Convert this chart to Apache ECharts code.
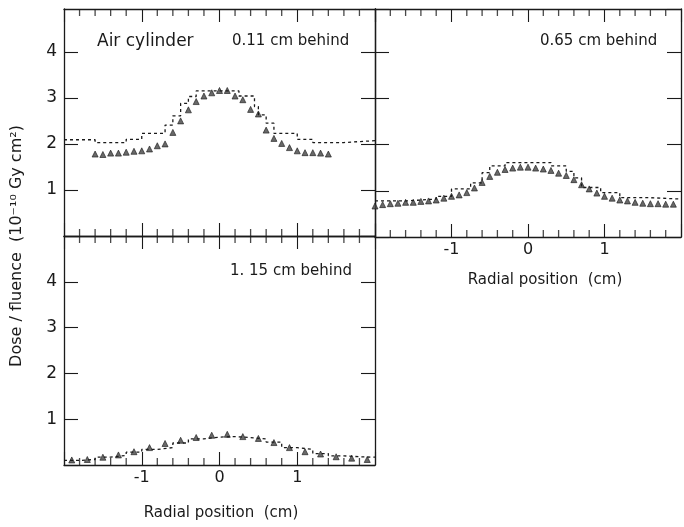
<!DOCTYPE html>
<html>
<head>
<meta charset="utf-8">
<script src="https://cdn.jsdelivr.net/npm/echarts@6/dist/echarts.min.js"></script>
<style>
  html, body { margin: 0; padding: 0; background: #fff; }
  #chart { width: 684px; height: 527px; }
</style>
</head>
<body>
<div id="chart"></div>
<script>
// panel 1: air cylinder, 0.11 cm behind
const triX1 = [-1.6, -1.5, -1.4, -1.3, -1.2, -1.1, -1.0, -0.9, -0.8, -0.7, -0.6, -0.5, -0.4, -0.3, -0.2, -0.1,
  0.0, 0.1, 0.2, 0.3, 0.4, 0.5, 0.6, 0.7, 0.8, 0.9, 1.0, 1.1, 1.2, 1.3, 1.4]
const triY1 = [1.78, 1.77, 1.80, 1.80, 1.82, 1.84, 1.85, 1.89, 1.96, 2.00, 2.25, 2.50, 2.74, 2.92, 3.04, 3.11,
  3.16, 3.16, 3.04, 2.96, 2.75, 2.65, 2.30, 2.12, 2.01, 1.92, 1.85, 1.81, 1.81, 1.80, 1.78]
const stepEdges1 = [-2.0, -1.6, -1.2, -1.0, -0.7, -0.6, -0.5, -0.4, -0.3, 0.25, 0.45, 0.5, 0.6, 0.7, 1.0, 1.2, 1.6, 2.0]
const stepVals1 = [2.09, 2.03, 2.10, 2.23, 2.41, 2.61, 2.88, 3.03, 3.15, 3.04, 2.81, 2.63, 2.45, 2.23, 2.10, 2.03, 2.07]

// panel 2: 0.65 cm behind
const triX2 = [-2.0, -1.9, -1.8, -1.7, -1.6, -1.5, -1.4, -1.3, -1.2, -1.1, -1.0, -0.9, -0.8, -0.7, -0.6, -0.5, -0.4, -0.3, -0.2, -0.1,
  0.0, 0.1, 0.2, 0.3, 0.4, 0.5, 0.6, 0.7, 0.8, 0.9, 1.0, 1.1, 1.2, 1.3, 1.4, 1.5, 1.6, 1.7, 1.8, 1.9]
const triY2 = [0.67, 0.70, 0.72, 0.73, 0.75, 0.75, 0.77, 0.78, 0.80, 0.84, 0.88, 0.91, 0.96, 1.06, 1.18, 1.31, 1.40, 1.46, 1.49, 1.51,
  1.51, 1.49, 1.47, 1.44, 1.38, 1.33, 1.24, 1.13, 1.04, 0.95, 0.88, 0.84, 0.80, 0.78, 0.75, 0.73, 0.72, 0.72, 0.71, 0.71]
const stepEdges2 = [-2.0, -1.6, -1.2, -1.0, -0.75, -0.6, -0.5, -0.3, 0.3, 0.5, 0.6, 0.7, 0.95, 1.2, 1.6, 2.0]
const stepVals2 = [0.78, 0.82, 0.88, 1.04, 1.17, 1.39, 1.54, 1.61, 1.54, 1.42, 1.28, 1.07, 0.96, 0.85, 0.82]

// panel 3: 1.15 cm behind
const triX3 = [-1.9, -1.7, -1.5, -1.3, -1.1, -0.9, -0.7, -0.5, -0.3, -0.1, 0.1, 0.3, 0.5, 0.7, 0.9, 1.1, 1.3, 1.5, 1.7, 1.9]
const triY3 = [0.11, 0.12, 0.17, 0.22, 0.29, 0.38, 0.47, 0.54, 0.60, 0.65, 0.67, 0.62, 0.58, 0.49, 0.38, 0.29, 0.24, 0.18, 0.15, 0.12]
const stepEdges3 = [-2.0, -1.8, -1.6, -1.4, -1.2, -1.0, -0.8, -0.6, -0.4, -0.2, 0.0, 0.2, 0.4, 0.6, 0.8, 1.0, 1.2, 1.4, 1.6, 1.8, 2.0]
const stepVals3 = [0.10, 0.12, 0.17, 0.21, 0.28, 0.34, 0.38, 0.48, 0.57, 0.61, 0.62, 0.60, 0.57, 0.50, 0.38, 0.34, 0.25, 0.20, 0.18, 0.17]

const xTickLabels = ['-1', '0', '1']
const yTickLabels = [1, 2, 3, 4]
// small ticks every 0.2 cm along top and bottom edges
const minorTickVals = [-1.8, -1.6, -1.4, -1.2, -0.8, -0.6, -0.4, -0.2, 0.2, 0.4, 0.6, 0.8, 1.2, 1.4, 1.6, 1.8]
const yMax = [4.93, 4.93, 5]

const INK = '#1a1a1a'
const FONT = '"DejaVu Sans", sans-serif'

function stepData(edges, vals) {
  const d = vals.map((v, i) => [edges[i], v])
  d.push([edges[edges.length - 1], vals[vals.length - 1]])
  return d
}

function pairs(xs, ys) {
  return xs.map((x, i) => [x, ys[i]])
}

function xLabel(v) {
  const r = Math.round(v)
  if (Math.abs(v - r) > 1e-6) return ''
  return xTickLabels.indexOf(String(r)) >= 0 ? String(r) : ''
}

function xAx(gridIndex, position, showLabel) {
  return {
    type: 'value',
    gridIndex: gridIndex,
    position: position,
    min: -2,
    max: 2,
    interval: 1,
    axisLine: { show: true, onZero: false, lineStyle: { color: INK, width: 1.3 } },
    axisTick: { show: true, inside: true, interval: 0, length: 13, lineStyle: { color: INK, width: 1.1 } },
    splitLine: { show: false },
    axisLabel: {
      show: showLabel,
      margin: 5,
      color: INK,
      fontFamily: FONT,
      fontSize: 16,
      formatter: xLabel
    }
  }
}

function yAx(gridIndex, position, max, showLabel) {
  return {
    type: 'value',
    gridIndex: gridIndex,
    position: position,
    min: 0,
    max: max,
    interval: 1,
    axisLine: { show: true, onZero: false, lineStyle: { color: INK, width: 1.3 } },
    axisTick: { show: true, inside: true, length: 14, lineStyle: { color: INK, width: 1.1 } },
    splitLine: { show: false },
    axisLabel: {
      show: showLabel,
      margin: 7,
      color: INK,
      fontFamily: FONT,
      fontSize: 17,
      showMaxLabel: false,
      formatter: v => (yTickLabels.indexOf(v) >= 0 ? String(v) : '')
    }
  }
}

function triSeries(g, data) {
  return {
    type: 'scatter',
    xAxisIndex: g * 2,
    yAxisIndex: g * 2,
    symbol: 'triangle',
    symbolSize: 6,
    itemStyle: { color: '#444', borderColor: INK, borderWidth: 0.8 },
    data: data,
    silent: true
  }
}

function stepSeries(g, data) {
  return {
    type: 'line',
    xAxisIndex: g * 2,
    yAxisIndex: g * 2,
    step: 'end',
    showSymbol: false,
    lineStyle: { color: INK, width: 1.3, type: [3, 3] },
    data: data,
    silent: true
  }
}

// short tick marks along an edge (bottom at 0, top at yMax)
function minorTickSeries(g, atTop) {
  const yv = atTop ? yMax[g] : 0
  return {
    type: 'scatter',
    xAxisIndex: g * 2,
    yAxisIndex: g * 2,
    symbol: 'rect',
    symbolSize: [1.3, 7],
    symbolOffset: [0, atTop ? 3.5 : -3.5],
    clip: false,
    itemStyle: { color: INK },
    data: minorTickVals.map(v => [v, yv]),
    silent: true,
    z: 5
  }
}

const chart = echarts.init(document.getElementById('chart'))
chart.setOption({
  animation: false,
  backgroundColor: '#fff',
  grid: [
    { left: 64, top: 9, width: 311, height: 227 },
    { left: 375, top: 9, width: 308, height: 228 },
    { left: 64, top: 236, width: 311, height: 229 }
  ],
  xAxis: [
    xAx(0, 'bottom', false), xAx(0, 'top', false),
    xAx(1, 'bottom', true), xAx(1, 'top', false),
    xAx(2, 'bottom', true), xAx(2, 'top', false)
  ],
  yAxis: [
    yAx(0, 'left', yMax[0], true), yAx(0, 'right', yMax[0], false),
    yAx(1, 'left', yMax[1], false), yAx(1, 'right', yMax[1], false),
    yAx(2, 'left', yMax[2], true), yAx(2, 'right', yMax[2], false)
  ],
  series: [
    stepSeries(0, stepData(stepEdges1, stepVals1)),
    triSeries(0, pairs(triX1, triY1)),
    stepSeries(1, stepData(stepEdges2, stepVals2)),
    triSeries(1, pairs(triX2, triY2)),
    stepSeries(2, stepData(stepEdges3, stepVals3)),
    triSeries(2, pairs(triX3, triY3)),
    minorTickSeries(0, false), minorTickSeries(0, true),
    minorTickSeries(1, false), minorTickSeries(1, true),
    minorTickSeries(2, false), minorTickSeries(2, true)
  ],
  graphic: [
    { type: 'text', left: 97, top: 33, style: { text: 'Air cylinder', font: '17px ' + FONT, fill: INK } },
    { type: 'text', left: 232, top: 34, style: { text: '0.11 cm behind', font: '15px ' + FONT, fill: INK } },
    { type: 'text', left: 540, top: 34, style: { text: '0.65 cm behind', font: '15px ' + FONT, fill: INK } },
    { type: 'text', left: 230, top: 264, style: { text: '1. 15 cm behind', font: '15px ' + FONT, fill: INK } },
    { type: 'text', x: 545, y: 280, style: { text: 'Radial position  (cm)', font: '15px ' + FONT, fill: INK, align: 'center', verticalAlign: 'middle' } },
    { type: 'text', x: 221, y: 513, style: { text: 'Radial position  (cm)', font: '15px ' + FONT, fill: INK, align: 'center', verticalAlign: 'middle' } },
    { type: 'text', x: 17, y: 246, rotation: Math.PI / 2, style: { text: 'Dose / fluence  (10\u207B\u00B9\u2070 Gy cm\u00B2)', font: '16px ' + FONT, fill: INK, align: 'center', verticalAlign: 'middle' } }
  ]
})
</script>
</body>
</html>
